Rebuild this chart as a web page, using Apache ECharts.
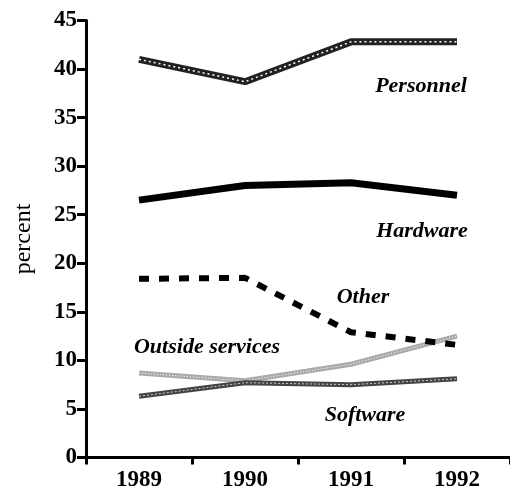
<!DOCTYPE html>
<html><head><meta charset="utf-8">
<script src="https://cdn.jsdelivr.net/npm/echarts@6/dist/echarts.min.js"></script>
<style>html,body{margin:0;padding:0;background:#fff}#c{width:510px;height:494px}</style>
</head><body><div id="c"></div>
<script>
const years = ['1989', '1990', '1991', '1992'];
const personnel = [41.0, 38.7, 42.8, 42.8];
const hardware = [26.5, 28.0, 28.3, 27.0];
const other = [18.4, 18.5, 12.9, 11.6];
const outsideServices = [8.7, 7.9, 9.6, 12.5];
const software = [6.3, 7.7, 7.5, 8.1];
const yTicks = [0, 5, 10, 15, 20, 25, 30, 35, 40, 45];

const serif = '"Liberation Serif", "DejaVu Serif", serif';
const chart = echarts.init(document.getElementById('c'), null, {renderer: 'canvas'});
const lab = (text, x, y) => ({
  type: 'text', x: x, y: y,
  style: {text: text, font: 'italic bold 22px ' + serif, fill: '#000', align: 'center', verticalAlign: 'middle'}
});
chart.setOption({
  animation: false,
  backgroundColor: '#fff',
  grid: {left: 86, top: 20.5, width: 428, bottom: 36.5, containLabel: false},
  xAxis: {
    type: 'category', data: years, boundaryGap: true,
    axisLine: {lineStyle: {color: '#000', width: 3}},
    axisTick: {show: true, length: 7, lineStyle: {color: '#000', width: 3}},
    axisLabel: {color: '#000', fontFamily: serif, fontWeight: 'bold', fontSize: 23, margin: 11}
  },
  yAxis: {
    type: 'value', min: 0, max: 45, interval: 5,
    name: 'percent', nameLocation: 'middle', nameGap: 50, nameRotate: 90,
    nameTextStyle: {color: '#000', fontFamily: serif, fontSize: 24},
    axisLine: {show: true, lineStyle: {color: '#000', width: 3}},
    axisTick: {show: true, length: 9, lineStyle: {color: '#000', width: 3}},
    axisLabel: {color: '#000', fontFamily: serif, fontWeight: 'bold', fontSize: 23, margin: 9,
      formatter: v => yTicks.includes(v) ? String(v) : ''},
    splitLine: {show: false}
  },
  series: [
    {type: 'line', data: personnel, symbol: 'none', lineStyle: {color: '#222', width: 7}, z: 3},
    {type: 'line', data: personnel, symbol: 'none', lineStyle: {color: '#fff', width: 1.5, type: [2, 3]}, z: 4},
    {type: 'line', data: hardware, symbol: 'none', lineStyle: {color: '#000', width: 7}, z: 3},
    {type: 'line', data: other, symbol: 'none', lineStyle: {color: '#000', width: 6, type: [10, 10]}, z: 3},
    {type: 'line', data: outsideServices, symbol: 'none', lineStyle: {color: '#aaa', width: 5}, z: 2},
    {type: 'line', data: outsideServices, symbol: 'none', lineStyle: {color: '#fff', width: 1, type: [1, 2]}, z: 2},
    {type: 'line', data: software, symbol: 'none', lineStyle: {color: '#444', width: 5}, z: 3},
    {type: 'line', data: software, symbol: 'none', lineStyle: {color: '#ccc', width: 1, type: [2, 2]}, z: 3}
  ],
  graphic: [
    lab('Personnel', 421, 86),
    lab('Hardware', 422, 231),
    lab('Other', 363, 297),
    lab('Outside services', 207, 347),
    lab('Software', 365, 415)
  ]
});
</script></body></html>
